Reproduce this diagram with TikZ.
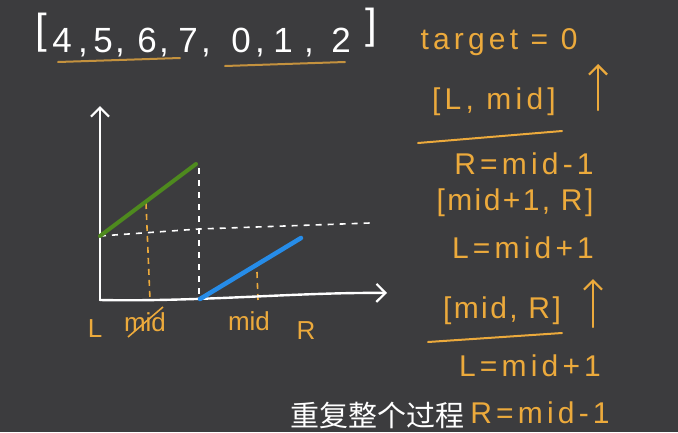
\documentclass[tikz,border=0pt]{standalone}
\usepackage{fontspec}
\setmainfont{Liberation Sans}
\newfontfamily\hand[LetterSpace=14]{Liberation Sans}
\newfontfamily\handm[LetterSpace=8]{Liberation Sans}
\newfontfamily\cjk{Noto Sans CJK SC}
\usetikzlibrary{arrows.meta}
\definecolor{bg}{RGB}{60,60,62}
\definecolor{org}{RGB}{236,170,60}
\definecolor{dorg}{RGB}{196,146,62}
\definecolor{grn}{RGB}{78,138,30}
\definecolor{blu}{RGB}{38,140,232}
\tikzset{
  arr/.style={text=white, font=\fontsize{35}{35}\selectfont, inner sep=0pt},
  brk/.style={text=white, font=\fontsize{42}{42}\selectfont, inner sep=0pt},
  otext/.style={text=org, font=\hand\fontsize{30}{30}\selectfont, inner sep=0pt},
  otextm/.style={text=org, font=\handm\fontsize{30}{30}\selectfont, inner sep=0pt},
  lbl/.style={text=org, font=\fontsize{26}{26}\selectfont, inner sep=0pt},
  axis/.style={white, line width=2.4pt, line cap=round, -{Straight Barb[length=9pt,width=18pt,line width=2.2pt]}},
  wdash/.style={white, line width=1.6pt, dash pattern=on 6pt off 6pt},
  odash/.style={org, line width=1.6pt, dash pattern=on 6pt off 5pt},
  uline/.style={line width=2pt, line cap=round},
  uparr/.style={org, line width=2.4pt, line cap=round, -{Straight Barb[length=9pt,width=18pt,line width=2.2pt]}},
}
\begin{document}
\begin{tikzpicture}[x=1pt,y=-1pt]
\fill[bg] (0,0) rectangle (678,432);
\useasboundingbox (0,0) rectangle (678,432);

% array
\node[brk] (lb) at (41,33) {[};
\node[brk] (rb) at (371,28) {]};
\foreach \x/\t [count=\i] in {62/4,103/5,147/6,188/7,241/0,283/1,341/2}
  \node[arr,anchor=base] (d\i) at (\x,52) {\t};
\foreach \x [count=\i] in {83,120,164,206,260,309}
  \node[arr,anchor=base] (c\i) at (\x,52) {,};
\coordinate (u1a) at (58,62); \coordinate (u1b) at (180,58);
\coordinate (u2a) at (225,66); \coordinate (u2b) at (345,62);
\draw[dorg,uline] (u1a) -- (u1b);
\draw[dorg,uline] (u2a) -- (u2b);

% right column
\node[otext] (tg) at (499,42) {target = 0};
\coordinate (ar1b) at (598,110); \coordinate (ar1t) at (598,64);
\draw[uparr] (ar1b) -- (ar1t);
\node[otext] (lm) at (494,102) {[L, mid]};
\coordinate (l1a) at (418,143); \coordinate (l1b) at (562,131);
\draw[org,uline] (l1a) -- (l1b);
\node[otext] (r1) at (524,164) {R=mid-1};
\node[otextm] (mr) at (515,203) {[mid+1, R]};
\node[otext] (l1) at (523,248) {L=mid+1};
\node[otextm] (mr2) at (502,311) {[mid, R]};
\coordinate (ar2b) at (593,327); \coordinate (ar2t) at (593,279);
\draw[uparr] (ar2b) -- (ar2t);
\coordinate (l2a) at (428,342); \coordinate (l2b) at (562,333);
\draw[org,uline] (l2a) -- (l2b);
\node[otext] (l2) at (530,366) {L=mid+1};
\node[otext] (r2) at (540,413) {R=mid-1};

% graph
\coordinate (O) at (100,300);
\coordinate (Yt) at (100,106);
\coordinate (Xe) at (387,293);
\coordinate (G1) at (100,236);
\coordinate (G2) at (196,164);
\coordinate (B1) at (200,299);
\coordinate (B2) at (301,238);
\coordinate (V1t) at (199,168);
\coordinate (V1b) at (199,298);
\coordinate (H1) at (199,229);
\coordinate (He) at (370,223);
\coordinate (M1t) at (146,203);
\coordinate (M1b) at (150,300);
\coordinate (M2t) at (257,272);
\coordinate (M2b) at (258,300);

\draw[wdash] (V1t) -- (V1b);
\draw[wdash] (G1) -- (H1) -- (He);
\draw[odash] (M1t) -- (M1b);
\draw[odash] (M2t) -- (M2b);
\draw[axis] (O) -- (Yt);
\draw[axis] (O) .. controls (200,302) and (300,292) .. (Xe);
\draw[grn, line width=4pt, line cap=round] (G1) -- (G2);
\draw[blu, line width=4.5pt, line cap=round] (B1) -- (B2);

\node[lbl] (lL) at (95,329) {L};
\node[lbl] (lmx) at (145,322) {mid};
\coordinate (sa) at (128,337); \coordinate (sb) at (163,307);
\draw[org, line width=1.6pt] (sa) -- (sb);
\node[lbl] (lmid) at (249,321) {mid};
\node[lbl] (lR) at (306,331) {R};

% subtitle
\node[text=white, font=\cjk\fontsize{29}{29}\selectfont, inner sep=0pt] (sub) at (377,415) {重复整个过程};
\end{tikzpicture}
\end{document}
